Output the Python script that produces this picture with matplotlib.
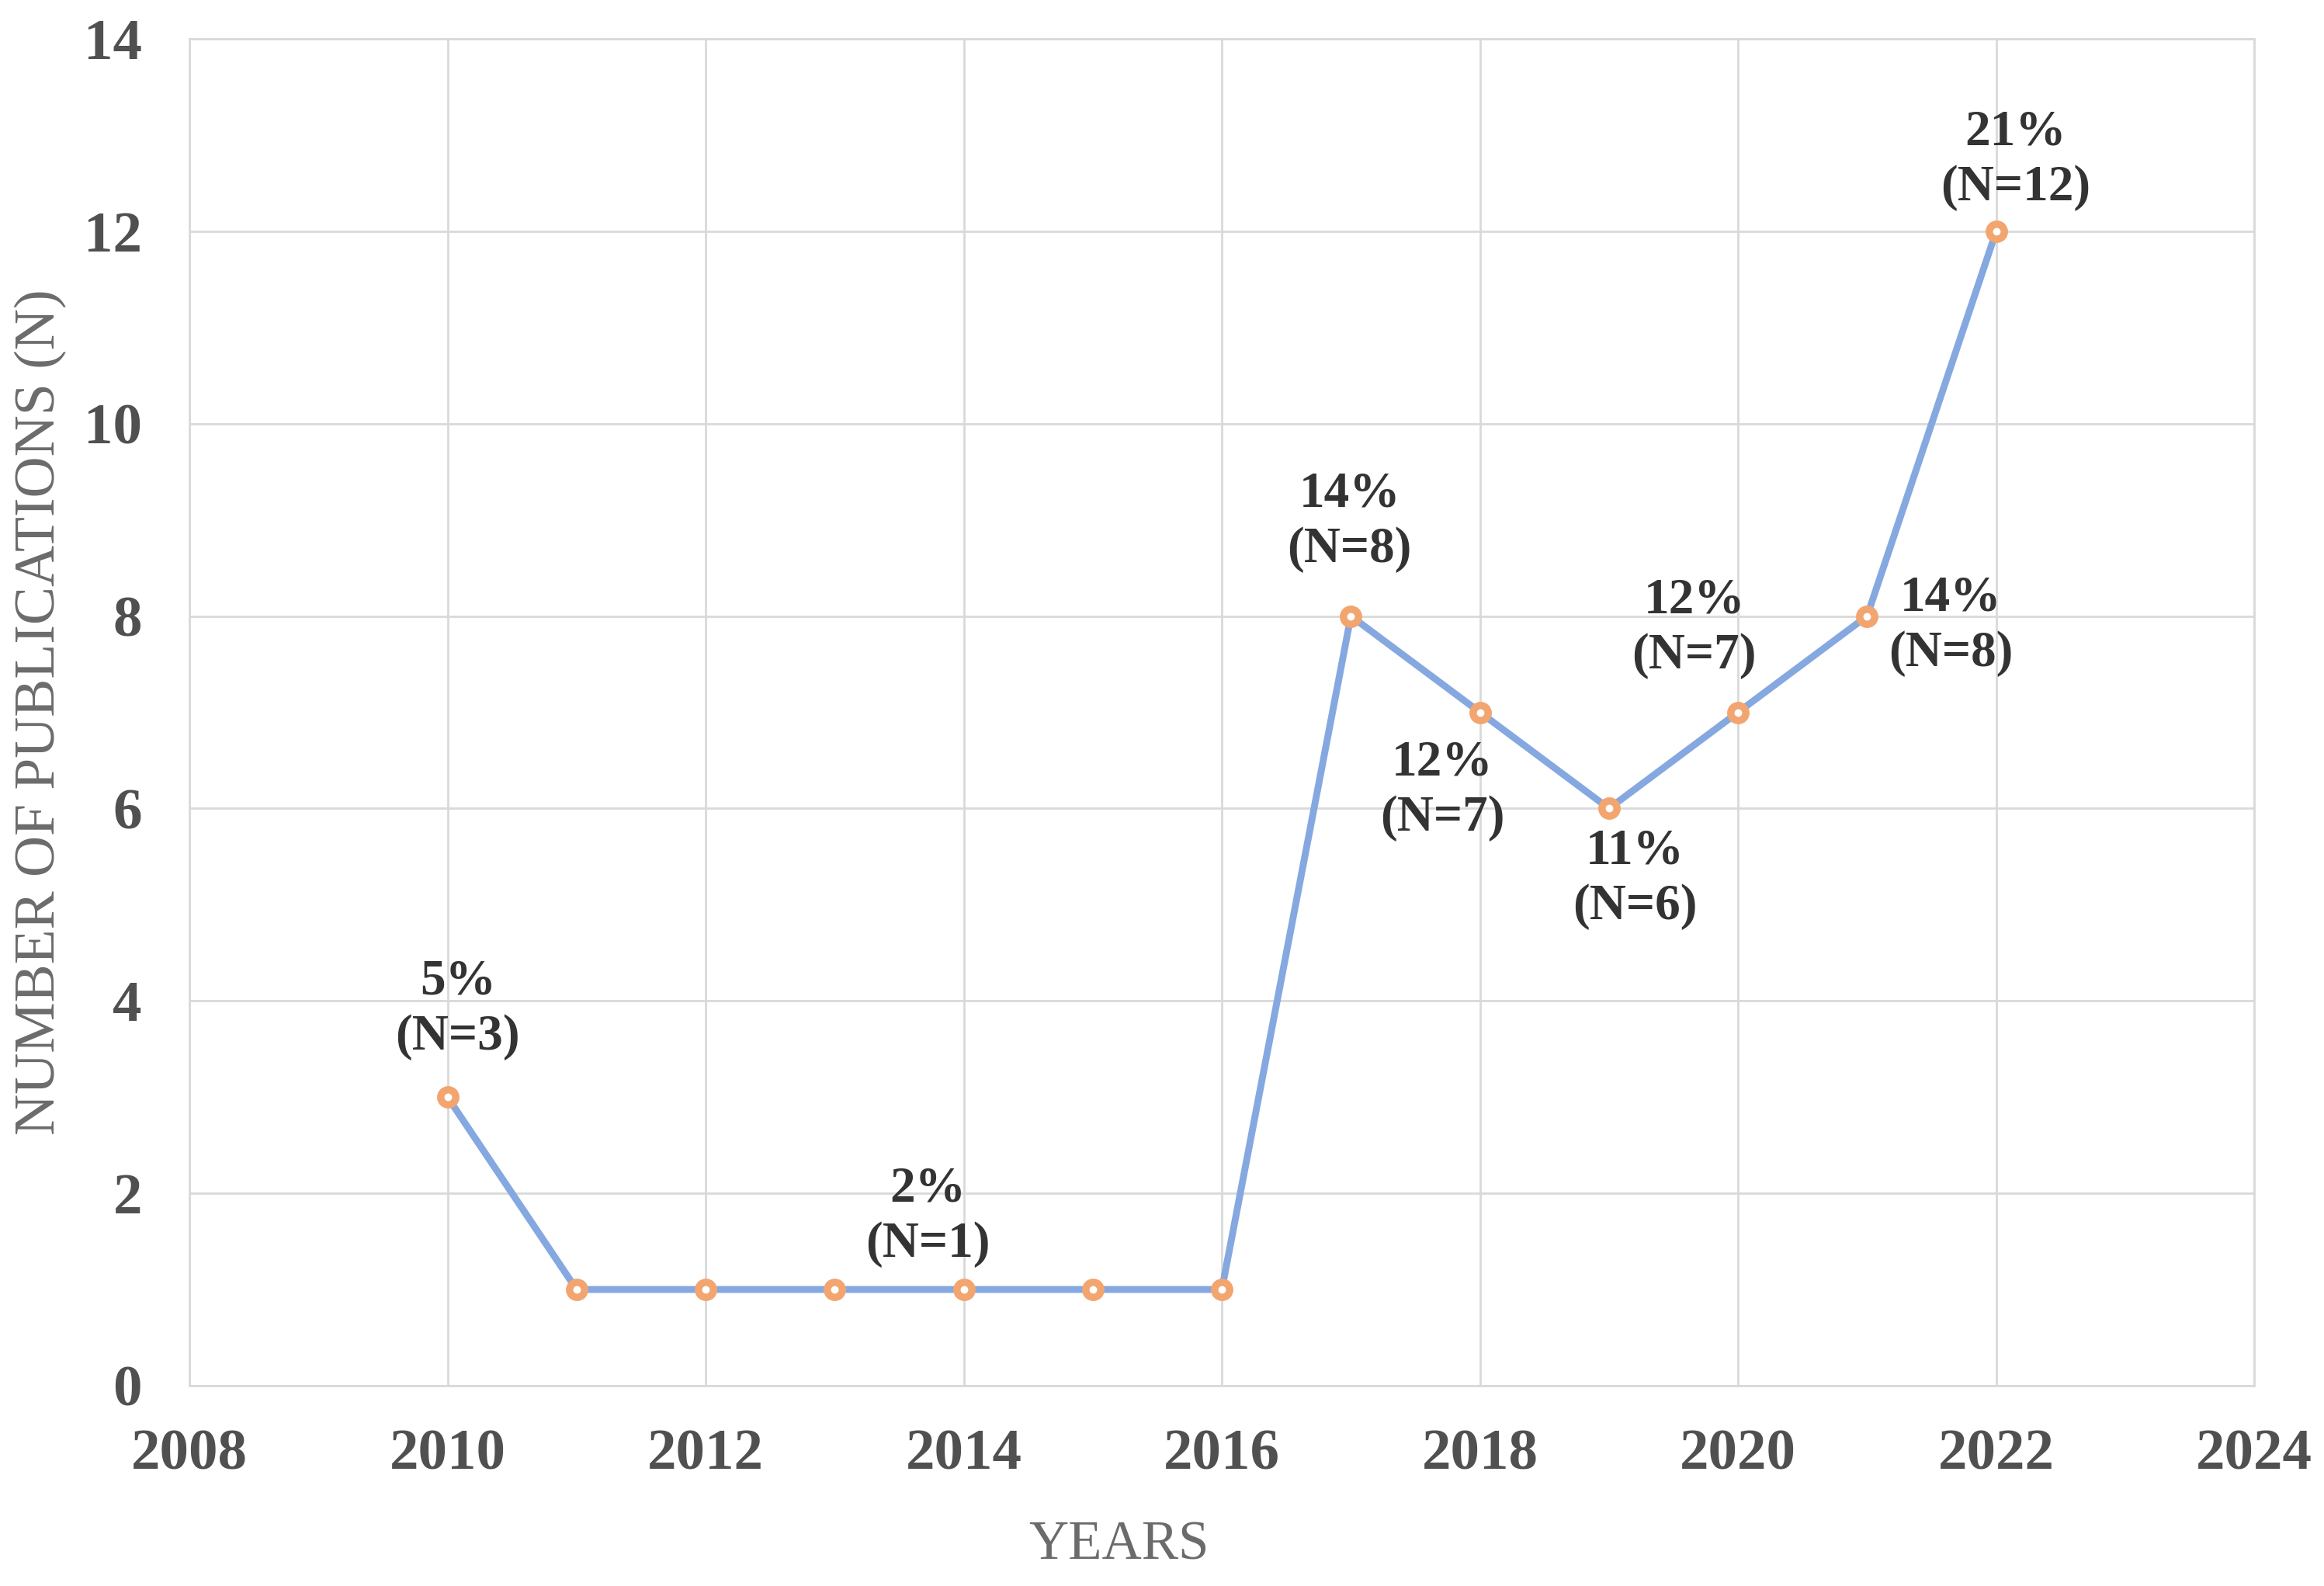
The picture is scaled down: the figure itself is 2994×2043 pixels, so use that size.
import matplotlib
matplotlib.use("Agg")
import matplotlib.pyplot as plt

years = [2010, 2011, 2012, 2013, 2014, 2015, 2016, 2017, 2018, 2019, 2020, 2021, 2022]
counts = [3, 1, 1, 1, 1, 1, 1, 8, 7, 6, 7, 8, 12]

label_years = [2010, 2014, 2017, 2018, 2019, 2020, 2021, 2022]
label_counts = [3, 1, 8, 7, 6, 7, 8, 12]
label_pcts = ["5%", "2%", "14%", "12%", "11%", "12%", "14%", "21%"]
# placement offsets (data units) for each label block centre
label_dx = [0.08, -0.28, -0.01, -0.29, 0.20, -0.34, 0.65, 0.15]
label_dy = [0.91, 0.76, 0.98, -0.81, -0.73, 0.87, -0.10, 0.74]

x_ticks = [2008, 2010, 2012, 2014, 2016, 2018, 2020, 2022, 2024]
y_ticks = [0, 2, 4, 6, 8, 10, 12, 14]

plt.rcParams['font.family'] = ['Liberation Serif', 'DejaVu Serif']

fig = plt.figure(figsize=(14.97, 10.215), dpi=200)
ax = fig.add_axes([0.0815, 0.1263, 0.8885, 0.8492])

ax.plot(years, counts, color='#86A8E0', lw=3.2, zorder=3,
        marker='o', ms=7.0, mew=3.4, mec='#F2A56F', mfc='white')

for x, n, p, dx, dy in zip(label_years, label_counts, label_pcts, label_dx, label_dy):
    ax.text(x + dx, n + dy, f"{p}\n(N={n})", ha='center', va='center',
            fontsize=23.5, fontweight='bold', color='#333333',
            linespacing=1.25, zorder=4)

ax.set_xlim(2008, 2024)
ax.set_ylim(0, 14)
ax.set_xticks(x_ticks)
ax.set_yticks(y_ticks)
ax.grid(True, color='#D9D9D9', lw=1.0)
ax.set_axisbelow(True)
for s in ax.spines.values():
    s.set_color('#D9D9D9')
    s.set_linewidth(1.0)
ax.tick_params(length=0, labelsize=27, colors='#505050')
ax.tick_params(axis='y', pad=22)
ax.tick_params(axis='x', pad=20)
for lab in ax.get_xticklabels() + ax.get_yticklabels():
    lab.set_fontweight('bold')

ax.set_xlabel("YEARS", fontsize=25.5, color='#6B6B6B', va='center')
ax.xaxis.set_label_coords(0.45, -0.119)
ax.set_ylabel("NUMBER OF PUBLICATIONS (N)", fontsize=26.5, color='#6B6B6B', va='center')
ax.yaxis.set_label_coords(-0.072, 0.5)

fig.savefig("out.png", dpi=200)
